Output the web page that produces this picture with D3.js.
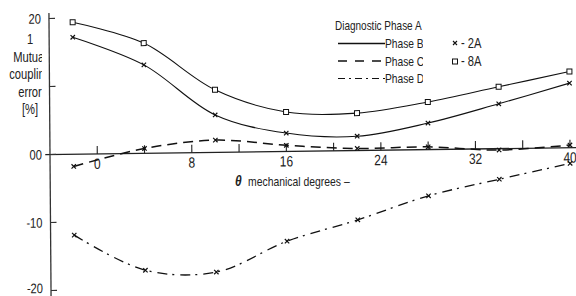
<!DOCTYPE html>
<html>
<head>
<meta charset="utf-8">
<script src="https://cdn.jsdelivr.net/npm/d3@7"></script>
<style>
  body { margin: 0; background: #fff; }
  svg { display: block; font-family: "Liberation Sans", Arial, sans-serif; }
</style>
</head>
<body>
<script>

// angles where the curves were measured
var angles = [-2, 4, 10, 16, 22, 28, 34, 40];

// mutual coupling error [%]
var phaseB8A = [19.4, 16.2, 9.2, 5.8, 5.5, 7.0, 9.1, 11.2];
var phaseB2A = [17.2, 13.0, 5.5, 2.7, 2.1, 3.9, 6.6, 9.5];
var phaseC2A = [-1.8, 0.7, 1.8, 0.9, 0.3, 0.4, -0.2, 0.4];
var phaseD2A = [-11.9, -17.2, -17.6, -13.2, -10.2, -6.8, -4.5, -2.3];

var xTicks = [0, 4, 8, 12, 16, 20, 24, 28, 32, 36, 40];
var xTickLabels = ["0", "", "8", "", "16", "", "24", "", "32", "", "40"];
var yTicks = [-20, -10, 0, 10, 20];
var yTickLabels = ["-20", "-10", "00", "", "20"];
var yTitle = ["1", "Mutual", "coupling", "error", "[%]"];

var w = 576;
var h = 296;
var narrow = 0.8; // the original uses a condensed face

function place(x, y) {
    return "translate(" + x + "," + y + ") scale(" + narrow + ",1)";
}

var svg = d3.select("body")
    .append("svg")
    .attr("width", w)
    .attr("height", h);

var xScale = d3.scaleLinear()
    .domain([-4, 40])
    .range([50, 570]);

var yScale = d3.scaleLinear()
    .domain([-20, 20])
    .range([290.5, 18.5]);

// the scanned figure is a bit tilted, so skew the plot area to follow it
var plot = svg.append("g")
    .attr("transform", "translate(50,154.5) matrix(1,-0.013,0.0075,1,0,0) translate(-50,-154.5)");

// axes
plot.append("line")
    .attr("x1", xScale(-4.4)).attr("x2", xScale(40.6))
    .attr("y1", yScale(0)).attr("y2", yScale(0))
    .attr("stroke", "#222").attr("stroke-width", 1.3);

plot.append("line")
    .attr("x1", xScale(-4)).attr("x2", xScale(-4))
    .attr("y1", yScale(20.8)).attr("y2", yScale(-20.9))
    .attr("stroke", "#333").attr("stroke-width", 1.3);

plot.selectAll(".xtick")
    .data(xTicks)
    .enter()
    .append("line")
    .attr("class", "xtick")
    .attr("x1", function(d) { return xScale(d); })
    .attr("x2", function(d) { return xScale(d); })
    .attr("y1", yScale(0))
    .attr("y2", yScale(0) - 8)
    .attr("stroke", "#222")
    .attr("stroke-width", 1.1);

plot.selectAll(".xlabel")
    .data(xTicks)
    .enter()
    .append("text")
    .attr("class", "xlabel")
    .attr("transform", function(d) { return place(xScale(d), yScale(0) + 15); })
    .attr("text-anchor", "middle")
    .attr("font-size", 15)
    .attr("fill", "#222")
    .text(function(d, i) { return xTickLabels[i]; });

plot.selectAll(".ytick")
    .data(yTicks)
    .enter()
    .append("line")
    .attr("class", "ytick")
    .attr("x1", xScale(-4))
    .attr("x2", xScale(-4) + 6)
    .attr("y1", function(d) { return yScale(d); })
    .attr("y2", function(d) { return yScale(d); })
    .attr("stroke", "#333")
    .attr("stroke-width", 1.2);

plot.selectAll(".ylabel")
    .data(yTicks)
    .enter()
    .append("text")
    .attr("class", "ylabel")
    .attr("transform", function(d) { return place(xScale(-4) - 8, Math.min(yScale(d) + 5, 293)); })
    .attr("text-anchor", "end")
    .attr("font-size", 14)
    .attr("fill", "#222")
    .text(function(d, i) { return yTickLabels[i]; });

// curves
var line = d3.line()
    .x(function(d) { return xScale(d.x); })
    .y(function(d) { return yScale(d.y); })
    .curve(d3.curveCatmullRom.alpha(0.5));

var series = [
    {values: phaseB8A, dash: null, width: 1.1, marker: "square"},
    {values: phaseB2A, dash: null, width: 1.1, marker: "cross"},
    {values: phaseC2A, dash: "10,6", width: 1.5, marker: "cross"},
    {values: phaseD2A, dash: "10,5,2,6", width: 1.3, marker: "cross"}
];

series.forEach(function(s) {
    var pts = angles.map(function(a, i) { return {x: a, y: s.values[i]}; });

    plot.append("path")
        .datum(pts)
        .attr("d", line)
        .attr("fill", "none")
        .attr("stroke", "#111")
        .attr("stroke-width", s.width)
        .attr("stroke-dasharray", s.dash);

    if (s.marker == "square") {
        plot.selectAll(null)
            .data(pts)
            .enter()
            .append("rect")
            .attr("x", function(d) { return xScale(d.x) - 2.5; })
            .attr("y", function(d) { return yScale(d.y) - 2.5; })
            .attr("width", 5)
            .attr("height", 5)
            .attr("fill", "#fff")
            .attr("stroke", "#111")
            .attr("stroke-width", 1);
    } else {
        plot.selectAll(null)
            .data(pts)
            .enter()
            .append("path")
            .attr("transform", function(d) { return "translate(" + xScale(d.x) + "," + yScale(d.y) + ")"; })
            .attr("d", "M-2.2,-2.2L2.2,2.2M-2.2,2.2L2.2,-2.2")
            .attr("stroke", "#111")
            .attr("stroke-width", 1.2);
    }
});

// x axis title
svg.append("text")
    .attr("transform", place(235, 186))
    .attr("font-size", 15)
    .attr("font-style", "italic")
    .attr("font-weight", "bold")
    .attr("fill", "#222")
    .text("\u03b8");

svg.append("text")
    .attr("transform", place(248, 186))
    .attr("font-size", 13)
    .attr("fill", "#222")
    .text("mechanical degrees \u2013");

// y axis title, cut off on its right side like the original
svg.append("clipPath")
    .attr("id", "yclip")
    .append("rect")
    .attr("x", 0).attr("y", 0)
    .attr("width", 42).attr("height", h);

svg.append("g")
    .attr("clip-path", "url(#yclip)")
    .selectAll("text")
    .data(yTitle)
    .enter()
    .append("text")
    .attr("transform", function(d, i) { return place(30, 44 + i * 17.5); })
    .attr("text-anchor", "middle")
    .attr("font-size", 14)
    .attr("fill", "#222")
    .text(function(d) { return d; });

// legend
var legend = svg.append("g");

legend.append("text")
    .attr("transform", place(335, 30))
    .attr("font-size", 12.5)
    .attr("fill", "#222")
    .text("Diagnostic Phase A");

var legendRows = [
    {name: "Phase B", dash: null, width: 1.3},
    {name: "Phase C", dash: "9,8", width: 1.6},
    {name: "Phase D", dash: "7,4,2,4", width: 1.2}
];

svg.append("clipPath")
    .attr("id", "legclip")
    .append("rect")
    .attr("x", 330).attr("y", 0)
    .attr("width", 93).attr("height", 100);

var rows = legend.append("g")
    .attr("clip-path", "url(#legclip)")
    .selectAll("g")
    .data(legendRows)
    .enter()
    .append("g")
    .attr("transform", function(d, i) { return "translate(0," + (48 + i * 17.5) + ")"; });

rows.append("line")
    .attr("x1", 338).attr("x2", 385)
    .attr("y1", -4.5).attr("y2", -4.5)
    .attr("stroke", "#111")
    .attr("stroke-width", function(d) { return d.width; })
    .attr("stroke-dasharray", function(d) { return d.dash; });

rows.append("text")
    .attr("transform", place(385, 0))
    .attr("font-size", 12.8)
    .attr("fill", "#222")
    .text(function(d) { return d.name; });

svg.append("clipPath")
    .attr("id", "curclip")
    .append("rect")
    .attr("x", 440).attr("y", 0)
    .attr("width", 47).attr("height", 100);

var cur = legend.append("g").attr("clip-path", "url(#curclip)");

cur.append("path")
    .attr("transform", "translate(455,43)")
    .attr("d", "M-2,-2L2,2M-2,2L2,-2")
    .attr("stroke", "#111")
    .attr("stroke-width", 1.1);

cur.append("rect")
    .attr("x", 452.5).attr("y", 59)
    .attr("width", 5).attr("height", 5)
    .attr("fill", "#fff")
    .attr("stroke", "#111");

cur.append("text")
    .attr("transform", place(461, 48))
    .attr("font-size", 14)
    .attr("fill", "#222")
    .text("- 2A");

cur.append("text")
    .attr("transform", place(461, 66))
    .attr("font-size", 14)
    .attr("fill", "#222")
    .text("- 8A");

</script>
</body>
</html>
